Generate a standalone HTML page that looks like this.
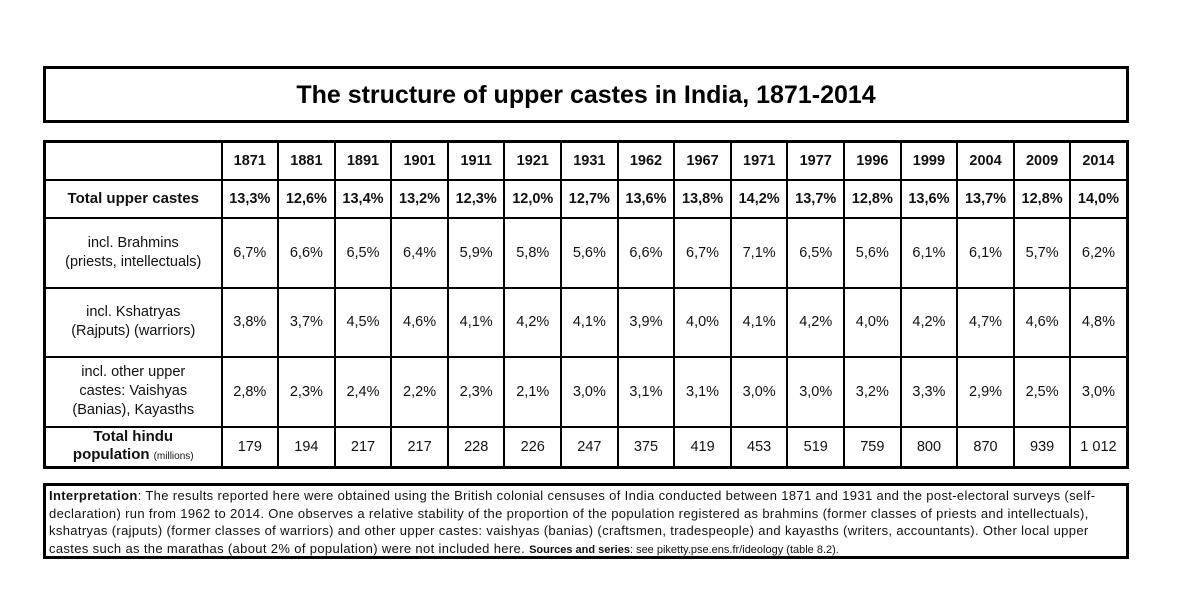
<!DOCTYPE html>
<html><head><meta charset="utf-8"><style>
body{margin:0;width:1177px;height:594px;background:#fff;font-family:"Liberation Sans",Arial,sans-serif;position:relative;overflow:hidden}
.title{position:absolute;left:43px;top:66px;width:1080px;height:51px;border:3px solid #000;text-align:center;font-weight:bold;font-size:25px;line-height:53px}
table{position:absolute;left:43px;top:140px;border-collapse:collapse;border:3px solid #000;table-layout:fixed}
td{border:2px solid #000;text-align:center;font-size:14.5px;padding:0;color:#111}
tr.h td,tr.t td{font-weight:bold}
td.lab{font-size:14.5px;line-height:19px}
.notes{position:absolute;left:43px;top:483px;width:1074px;height:68px;border:3px solid #000;padding:1px 3px;font-size:13px;letter-spacing:0.35px;line-height:17.5px;color:#111;white-space:nowrap;overflow:hidden}
</style></head><body>
<div class="title">The structure of upper castes in India, 1871-2014</div>
<table>
<colgroup><col style="width:177px"><col span="16" style="width:56.6px"></colgroup>
<tbody id="tb"></tbody>
</table>
<div class="notes"><b>Interpretation</b>: The results reported here were obtained using the British colonial censuses of India conducted between 1871 and 1931 and the post-electoral surveys (self-<br>declaration) run from 1962 to 2014. One observes a relative stability of the proportion of the population registered as brahmins (former classes of priests and intellectuals),<br>kshatryas (rajputs) (former classes of warriors) and other upper castes: vaishyas (banias) (craftsmen, tradespeople) and kayasths (writers, accountants). Other local upper<br>castes such as the marathas (about 2% of population) were not included here. <b style="font-size:11px;letter-spacing:0">Sources and series</b><span style="font-size:11px;letter-spacing:0">: see piketty.pse.ens.fr/ideology (table 8.2).</span></div>
<script>
const years=["1871","1881","1891","1901","1911","1921","1931","1962","1967","1971","1977","1996","1999","2004","2009","2014"];
const total=["13,3%","12,6%","13,4%","13,2%","12,3%","12,0%","12,7%","13,6%","13,8%","14,2%","13,7%","12,8%","13,6%","13,7%","12,8%","14,0%"];
const brahmins=["6,7%","6,6%","6,5%","6,4%","5,9%","5,8%","5,6%","6,6%","6,7%","7,1%","6,5%","5,6%","6,1%","6,1%","5,7%","6,2%"];
const kshatryas=["3,8%","3,7%","4,5%","4,6%","4,1%","4,2%","4,1%","3,9%","4,0%","4,1%","4,2%","4,0%","4,2%","4,7%","4,6%","4,8%"];
const others=["2,8%","2,3%","2,4%","2,2%","2,3%","2,1%","3,0%","3,1%","3,1%","3,0%","3,0%","3,2%","3,3%","2,9%","2,5%","3,0%"];
const population=["179","194","217","217","228","226","247","375","419","453","519","759","800","870","939","1 012"];
const rows=[
 {cls:"h",h:38,label:"",vals:years,name:"year-header-row"},
 {cls:"t",h:38,label:"Total upper castes",vals:total,name:"total-upper-castes-row"},
 {cls:"",h:70,label:"incl. Brahmins<br>(priests, intellectuals)",vals:brahmins,name:"brahmins-row"},
 {cls:"",h:69,label:"incl. Kshatryas<br>(Rajputs) (warriors)",vals:kshatryas,name:"kshatryas-row"},
 {cls:"",h:70,label:"incl. other upper<br>castes: Vaishyas<br>(Banias), Kayasths",vals:others,name:"other-upper-castes-row"},
 {cls:"",h:38,label:'<b style="font-size:15px">Total hindu<br>population</b> <span style="font-size:10px">(millions)</span>',vals:population,name:"total-hindu-population-row"}
];
const tb=document.getElementById('tb');
rows.forEach(r=>{
 const tr=document.createElement('tr');
 tr.className=r.cls;tr.style.height=r.h+'px';
 
 
 const l=document.createElement('td');l.className='lab';l.innerHTML=r.label;
 
 
 if(r.cls==='t')l.style.fontSize='15px';
 if(r.name==='total-hindu-population-row')l.style.lineHeight='18px';
 tr.appendChild(l);
 r.vals.forEach(v=>{const td=document.createElement('td');td.textContent=v;
  
  
  tr.appendChild(td);});
 tb.appendChild(tr);
});
</script>
</body></html>
